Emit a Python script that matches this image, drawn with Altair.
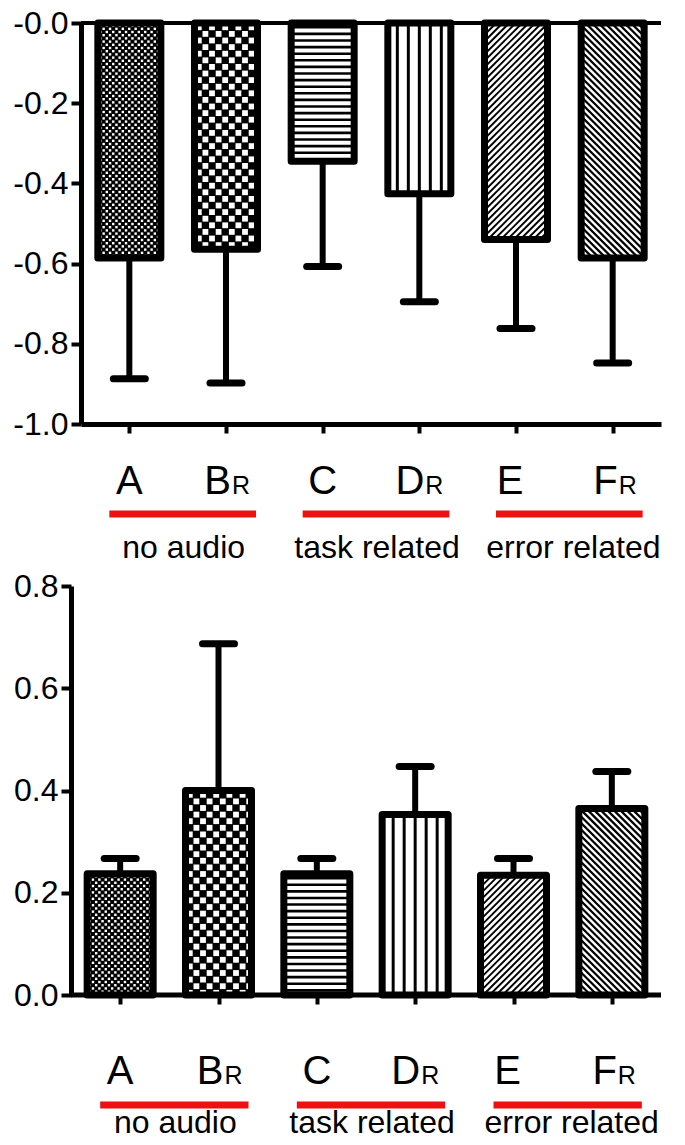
import altair as alt
import numpy as np
import pandas as pd

# ---------------- data ----------------
categories = ["A", "B", "C", "D", "E", "F"]
subscripts = ["", "R", "", "R", "", "R"]
patterns = ["fine_check", "coarse_check", "hlines", "vlines", "diag_up", "diag_down"]
group_names = ["no audio", "task related", "error related"]
group_first = [0, 2, 4]
group_last = [1, 3, 5]

top_means = [-0.586, -0.564, -0.345, -0.426, -0.540, -0.586]
top_err_ends = [-0.887, -0.898, -0.607, -0.695, -0.762, -0.848]
top_ticks = [-1.0, -0.8, -0.6, -0.4, -0.2, 0.0]

bottom_means = [0.237, 0.400, 0.237, 0.353, 0.234, 0.365]
bottom_err_ends = [0.267, 0.687, 0.267, 0.447, 0.267, 0.437]
bottom_ticks = [0.0, 0.2, 0.4, 0.6, 0.8]

# ---------------- style ----------------
FONT = "Liberation Sans"
RED = "#ee1111"
letter_nudge_px = [0, 5, 0, 5, -6, 5]     # right edge offset for letters with subscript
group_nudge_px = [1, 1, 4]


def pattern_elements(kind, L, R, T, B, cx):
    """Texture of one bar in pixel space: rects (x1,x2,y1,y2,color), lines (xa,xb,ya,yb,width)."""
    rects, lines = [], []
    if kind in ("fine_check", "coarse_check"):
        c, s = (3.2, 2.4) if kind == "fine_check" else (6.6, 5.8)
        nx = int(np.ceil((R - L) / c))
        ny = int(np.ceil((B - T) / c))
        for ix in range(nx):
            for iy in range(ny):
                if (ix + iy) % 2 == 0:
                    x1 = L + ix * c + (c - s) / 2
                    y1 = T + iy * c + (c - s) / 2
                    x2 = min(x1 + s, R)
                    y2 = min(y1 + s, B)
                    if x2 > x1 and y2 > y1:
                        rects.append((x1, x2, y1, y2, "white"))
    elif kind == "hlines":
        p, t = 6.6, 2.6
        y = T + p / 2
        while y < B:
            rects.append((L, R, y - t / 2, min(y + t / 2, B), "black"))
            y += p
    elif kind == "vlines":
        p, t = 11.0, 3.0
        for k in range(-3, 4):
            x = cx + k * p
            if L < x - t / 2 and x + t / 2 < R:
                rects.append((x - t / 2, x + t / 2, T, B, "black"))
    elif kind == "diag_up":  # "/"  : x + y = c
        p, w = 6.5, 1.9
        c = L + T + p / 2
        while c < R + B:
            xa = max(L, c - B)
            xb = min(R, c - T)
            if xb > xa:
                lines.append((xa, xb, c - xa, c - xb, w))
            c += p
    elif kind == "diag_down":  # "\" : x - y = c
        p, w = 6.5, 2.3
        c = L - B + p / 2
        while c < R - T:
            xa = max(L, T + c)
            xb = min(R, B + c)
            if xb > xa:
                lines.append((xa, xb, xa - c, xb - c, w))
            c += p
    return rects, lines


def build_panel(means, ends, ticks, y_lo, y_hi, label_expr, W, H, shift_px, bar_w,
                x_domain_line, zero_rule_w, offs):
    n = len(categories)
    unit = (W + shift_px) / n
    x_lo = shift_px / unit
    xs = alt.Scale(domain=[x_lo, n], nice=False, zero=False)
    ys = alt.Scale(domain=[y_lo, y_hi], nice=False, zero=False)

    def ypx(v):
        return (y_hi - v) / (y_hi - y_lo) * H

    def ydat(p):
        return y_hi - p / H * (y_hi - y_lo)

    centers = [i + 0.5 for i in range(n)]

    y_axis = alt.Axis(values=ticks, labelExpr=label_expr, labelFont=FONT, labelFontSize=32,
                      labelColor="black", labelPadding=3, tickSize=10, tickWidth=4,
                      tickColor="black", domainWidth=5, domainColor="black", grid=False,
                      title="", offset=shift_px)
    x_axis = alt.Axis(values=centers, labels=False, tickSize=9, tickWidth=4, tickColor="black",
                      domain=x_domain_line, domainWidth=5, domainColor="black", grid=False,
                      title="")

    def X(f):
        return alt.X(f, type="quantitative", scale=xs, axis=x_axis, title="")

    def Y(f):
        return alt.Y(f, type="quantitative", scale=ys, axis=y_axis, title="")

    bars = pd.DataFrame({
        "cat": categories,
        "xl": [c - bar_w / 2 / unit for c in centers],
        "xr": [c + bar_w / 2 / unit for c in centers],
        "y0": [0.0] * n,
        "y1": means,
        "base": ["black" if p.endswith("check") else "white" for p in patterns],
    })

    rect_rows, line_rows = [], []
    for i in range(n):
        cxp = centers[i] * unit
        L = cxp - bar_w / 2 + 1
        R = cxp + bar_w / 2 - 1
        T = min(ypx(0), ypx(means[i])) + 1
        B = max(ypx(0), ypx(means[i])) - 1
        rr, ll = pattern_elements(patterns[i], L, R, T, B, cxp)
        for (x1, x2, y1, y2, col) in rr:
            rect_rows.append({"x": x1 / unit, "x2": x2 / unit, "y": ydat(y1), "y2": ydat(y2), "c": col})
        for (xa, xb, ya, yb, w) in ll:
            line_rows.append({"x": xa / unit, "x2": xb / unit, "y": ydat(ya), "y2": ydat(yb), "w": w})
    prect = pd.DataFrame(rect_rows)
    pline = pd.DataFrame(line_rows)

    err = pd.DataFrame({
        "x": centers,
        "cl": [c - 16 / unit for c in centers],
        "cr": [c + 16 / unit for c in centers],
        "m": means,
        "e": ends,
    })

    base = alt.Chart(bars).mark_rect(strokeWidth=0).encode(
        x=X("xl"), x2="xr", y=Y("y0"), y2="y1",
        fill=alt.Fill("base:N", scale=None))
    tex_r = alt.Chart(prect).mark_rect(strokeWidth=0).encode(
        x=X("x"), x2="x2", y=Y("y"), y2="y2", fill=alt.Fill("c:N", scale=None))
    tex_l = alt.Chart(pline).mark_rule(color="black").encode(
        x=X("x"), x2="x2", y=Y("y"), y2="y2", strokeWidth=alt.StrokeWidth("w:Q", scale=None))
    stems = alt.Chart(err).mark_rule(color="black", strokeWidth=6).encode(
        x=X("x"), y=Y("m"), y2="e")
    outline = alt.Chart(bars).mark_rect(fillOpacity=0, stroke="black", strokeWidth=7,
                                        strokeJoin="round").encode(
        x=X("xl"), x2="xr", y=Y("y0"), y2="y1")
    caps = alt.Chart(err).mark_rule(color="black", strokeWidth=7, strokeCap="round").encode(
        x=X("cl"), x2="cr", y=Y("e"))
    zero = alt.Chart(pd.DataFrame({"x": [0.0], "x2": [float(n)], "y": [0.0]})).mark_rule(
        color="black", strokeWidth=zero_rule_w).encode(x=X("x"), x2="x2", y=Y("y"))

    # category labels below the axis
    plain = [i for i in range(n) if not subscripts[i]]
    subbed = [i for i in range(n) if subscripts[i]]
    let_c = pd.DataFrame({"x": [centers[i] + letter_nudge_px[i] / unit for i in plain],
                          "t": [categories[i] for i in plain]})
    let_r = pd.DataFrame({"x": [centers[i] + letter_nudge_px[i] / unit for i in subbed],
                          "t": [categories[i] for i in subbed]})
    subs = pd.DataFrame({"x": [centers[i] + (letter_nudge_px[i] + 1) / unit for i in subbed],
                         "t": [subscripts[i] for i in subbed]})
    letter_off, red_off, group_off = offs
    t1 = alt.Chart(let_c).mark_text(font=FONT, fontSize=40, align="center", baseline="alphabetic",
                                    color="black").encode(x=X("x"), y=alt.value(H + letter_off), text="t:N")
    t2 = alt.Chart(let_r).mark_text(font=FONT, fontSize=40, align="right", baseline="alphabetic",
                                    color="black").encode(x=X("x"), y=alt.value(H + letter_off), text="t:N")
    t3 = alt.Chart(subs).mark_text(font=FONT, fontSize=25, align="left", baseline="alphabetic",
                                   color="black").encode(x=X("x"), y=alt.value(H + letter_off), text="t:N")
    gx1 = [centers[a] - 20 / unit for a in group_first]
    gx2 = [centers[b] + 30 / unit for b in group_last]
    grp = pd.DataFrame({"x": gx1, "x2": gx2, "g": group_names,
                        "gc": [(a + b) / 2 + d / unit for a, b, d in zip(gx1, gx2, group_nudge_px)]})
    red = alt.Chart(grp).mark_rule(color=RED, strokeWidth=7).encode(
        x=X("x"), x2="x2", y=alt.value(H + red_off))
    gtxt = alt.Chart(grp).mark_text(font=FONT, fontSize=32, align="center", baseline="alphabetic",
                                    color="black").encode(x=X("gc"), y=alt.value(H + group_off), text="g:N")

    return alt.layer(base, tex_r, tex_l, stems, outline, caps, zero, t1, t2, t3, red, gtxt).properties(
        width=W, height=H)


top = build_panel(top_means, top_err_ends, top_ticks, -1.0, 0.0,
                  "datum.value == 0 ? '-0.0' : '-' + format(abs(datum.value), '.1f')",
                  W=580, H=401, shift_px=0, bar_w=63, x_domain_line=True, zero_rule_w=4,
                  offs=(70, 90, 134))
bottom = build_panel(bottom_means, bottom_err_ends, bottom_ticks, 0.0, 0.8,
                     "format(datum.value, '.1f')",
                     W=580, H=409, shift_px=10, bar_w=66, x_domain_line=False, zero_rule_w=5,
                     offs=(89, 110, 138))

chart = alt.vconcat(top, bottom, spacing=6).properties(
    padding={"left": 4, "top": -1, "right": 0, "bottom": -3}
).configure_view(stroke=None)

chart.save("out.html", embed_options={"renderer": "svg", "actions": False})
